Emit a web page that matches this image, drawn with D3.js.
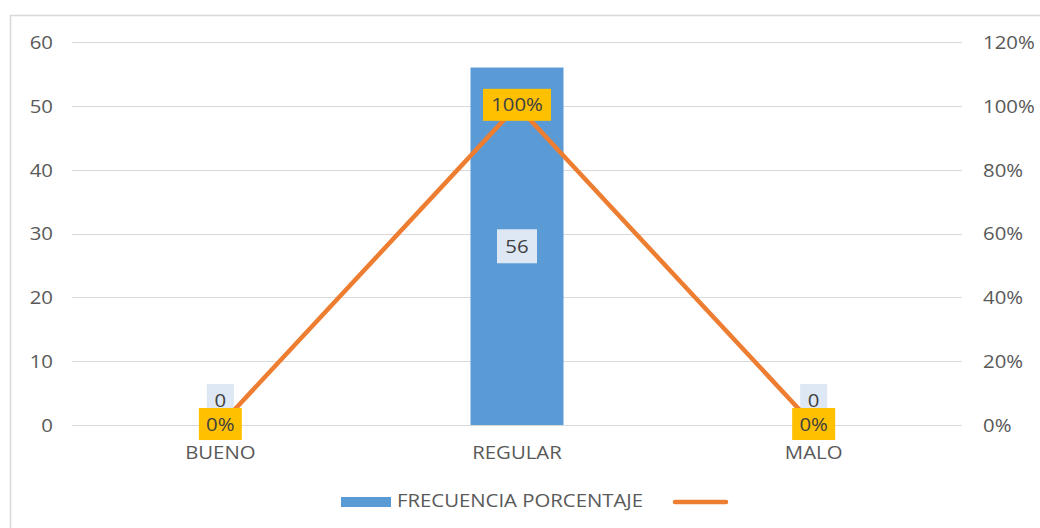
<!DOCTYPE html>
<html>
<head>
<meta charset="utf-8">
<script src="https://cdn.jsdelivr.net/npm/d3@7"></script>
<style>
  html, body { margin: 0; padding: 0; background: #fff; }
  svg { display: block; }
  svg text { font-family: "Open Sans", "Noto Sans", sans-serif; }
</style>
</head>
<body>
<svg id="chart" width="1040" height="528"></svg>
<script>
// Categories and series
const categories = ["BUENO", "REGULAR", "MALO"];
const frecuencia = [0, 56, 0];
const porcentaje = [0, 1.0, 0];
const leftTicks = [0, 10, 20, 30, 40, 50, 60];
const rightTicks = [0, 0.2, 0.4, 0.6, 0.8, 1.0, 1.2];
const legendLabels = ["FRECUENCIA PORCENTAJE", ""];

const svg = d3.select("#chart");
const W = 1040, H = 528;
const plot = { left: 72, right: 962, top: 42, bottom: 425 };
const FONT = "'Open Sans', 'Noto Sans', sans-serif";
const FS = 18.5;            // font size
const WIDEN = "scale(1.1,1)"; // slightly wide lettering

const textColor = "#595959";
const gridColor = "#d9d9d9";
const barColor = "#5b9bd5";
const lineColor = "#ed7d31";

// Chart frame
svg.append("path")
  .attr("d", `M10.5,${H} L10.5,15.5 L${W},15.5`)
  .attr("fill", "none")
  .attr("stroke", "#d9d9d9")
  .attr("stroke-width", 1.5);

const x = d3.scaleBand().domain(categories).range([plot.left, plot.right]).paddingInner(0).paddingOuter(0);
const yL = d3.scaleLinear().domain([0, 60]).range([plot.bottom, plot.top]);
const yR = d3.scaleLinear().domain([0, 1.2]).range([plot.bottom, plot.top]);

// Gridlines
svg.append("g").selectAll("line").data(leftTicks).join("line")
  .attr("x1", plot.left).attr("x2", plot.right)
  .attr("y1", d => Math.round(yL(d)) + 0.5).attr("y2", d => Math.round(yL(d)) + 0.5)
  .attr("stroke", gridColor).attr("stroke-width", 1);

function styleAxis(g) {
  g.attr("font-family", FONT).attr("font-size", FS);
  g.select(".domain").remove();
  g.selectAll("text").attr("fill", textColor).attr("x", 0).attr("transform", WIDEN);
}

// Left axis
svg.append("g").attr("transform", `translate(${plot.left - 19},0)`)
  .call(d3.axisLeft(yL).tickValues(leftTicks).tickSize(0).tickPadding(0))
  .call(styleAxis)
  .selectAll("text").attr("dy", "0.35em");

// Right axis
svg.append("g").attr("transform", `translate(${plot.right + 21},0)`)
  .call(d3.axisRight(yR).tickValues(rightTicks).tickSize(0).tickPadding(0)
    .tickFormat(d3.format(".0%")))
  .call(styleAxis)
  .selectAll("text").attr("dy", "0.35em");

// Category labels
svg.append("g").attr("transform", `translate(0,${plot.bottom + 21})`)
  .call(d3.axisBottom(x).tickSize(0).tickPadding(0))
  .call(styleAxis)
  .selectAll("text").attr("y", 0).attr("dy", "0.71em");

// Bars
const barW = 93;
svg.append("g").selectAll("rect").data(categories).join("rect")
  .attr("x", d => x(d) + x.bandwidth() / 2 - barW / 2)
  .attr("width", barW)
  .attr("y", (d, i) => yL(frecuencia[i]))
  .attr("height", (d, i) => plot.bottom - yL(frecuencia[i]))
  .attr("fill", barColor);

// Bar value labels
const barLabels = svg.append("g").selectAll("g").data(categories).join("g")
  .attr("transform", (d, i) => {
    const cx = x(d) + x.bandwidth() / 2;
    const cy = frecuencia[i] > 0 ? (yL(frecuencia[i]) + plot.bottom) / 2 : yL(frecuencia[i]) - 24;
    return `translate(${cx},${cy})`;
  });
barLabels.append("rect")
  .attr("x", (d, i) => frecuencia[i] > 9 ? -20 : -13.5)
  .attr("width", (d, i) => frecuencia[i] > 9 ? 40 : 27)
  .attr("y", -17).attr("height", 34)
  .attr("fill", "#dde8f4");
barLabels.append("text")
  .attr("text-anchor", "middle").attr("dy", "0.35em")
  .attr("font-family", FONT).attr("transform", WIDEN)
  .attr("fill", "#404040").attr("font-size", FS)
  .text((d, i) => frecuencia[i]);

// Percentage line
const line = d3.line()
  .x(d => x(d.c) + x.bandwidth() / 2)
  .y(d => yR(d.v));
const lineData = categories.map((c, i) => ({ c, v: porcentaje[i] }));
svg.append("path").datum(lineData)
  .attr("d", line)
  .attr("fill", "none")
  .attr("stroke", lineColor)
  .attr("stroke-width", 4.5)
  .attr("stroke-linejoin", "round")
  .attr("stroke-linecap", "round");

// Percentage labels
const fmtPct = d3.format(".0%");
const pctLabels = svg.append("g").selectAll("g").data(lineData).join("g")
  .attr("transform", d => `translate(${x(d.c) + x.bandwidth() / 2},${yR(d.v)})`);
pctLabels.append("rect")
  .attr("x", d => d.v >= 1 ? -34 : -21.5)
  .attr("width", d => d.v >= 1 ? 68 : 43)
  .attr("y", d => d.v >= 1 ? -17 : -17)
  .attr("height", 32)
  .attr("fill", "#ffc000");
pctLabels.append("text")
  .attr("text-anchor", "middle").attr("dy", "0.3em")
  .attr("font-family", FONT).attr("transform", WIDEN)
  .attr("fill", "#404040").attr("font-size", FS)
  .text(d => fmtPct(d.v));

// Legend
const legend = svg.append("g").attr("font-family", FONT);
legend.append("rect").attr("x", 341).attr("y", 497).attr("width", 50).attr("height", 10).attr("fill", barColor);
legend.append("text")
  .attr("transform", `translate(397,501) ${WIDEN}`).attr("dy", "0.35em")
  .attr("fill", textColor).attr("font-size", FS).text(legendLabels[0]);
legend.append("line").attr("x1", 675).attr("x2", 726).attr("y1", 502).attr("y2", 502)
  .attr("stroke", lineColor).attr("stroke-width", 4.5).attr("stroke-linecap", "round");
</script>
</body>
</html>
